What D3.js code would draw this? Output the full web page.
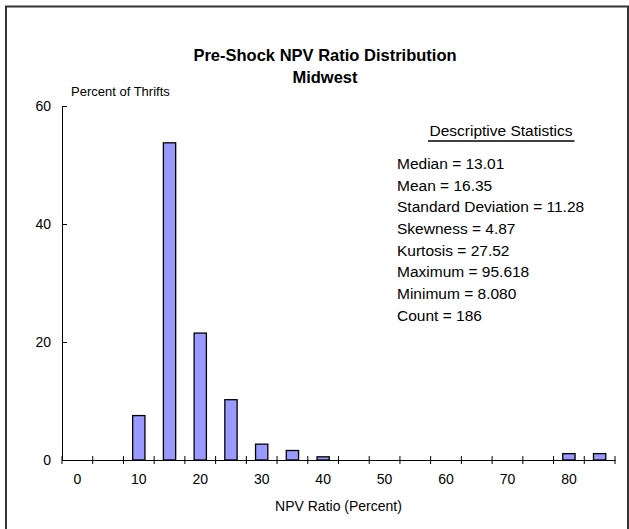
<!DOCTYPE html>
<html>
<head>
<meta charset="utf-8">
<script src="https://cdn.jsdelivr.net/npm/d3@7"></script>
<style>
  body { margin: 0; background: #fff; }
  svg text { font-family: "Liberation Sans", Arial, sans-serif; fill: #000; }
</style>
</head>
<body>
<div class="chart"></div>
<script>
// bins of the NPV ratio (percent), 5-point wide
var categories = ["0", "5", "10", "15", "20", "25", "30", "35", "40", "45",
  "50", "55", "60", "65", "70", "75", "80", "85"];
// percent of thrifts in each bin (186 thrifts)
var percents = [0, 0, 7.53, 53.76, 21.51, 10.22, 2.69, 1.61, 0.54, 0,
  0, 0, 0, 0, 0, 0, 1.08, 1.08];
var xTickLabels = ["0", "", "10", "", "20", "", "30", "", "40", "",
  "50", "", "60", "", "70", "", "80", ""];
var yTicks = [0, 20, 40, 60];
var statsLines = ["Median = 13.01", "Mean = 16.35", "Standard Deviation = 11.28",
  "Skewness = 4.87", "Kurtosis = 27.52", "Maximum = 95.618",
  "Minimum = 8.080", "Count = 186"];

var width = 629,
  height = 529;

var svg = d3.select(".chart")
  .append("svg")
  .attr("width", width)
  .attr("height", height);

// outer frame
svg.append("rect")
  .attr("x", 6)
  .attr("y", 6.5)
  .attr("width", 622)
  .attr("height", 540)
  .attr("fill", "none")
  .attr("stroke", "#333")
  .attr("stroke-width", 2);

var x = d3.scaleBand()
  .domain(categories)
  .range([62, 615])
  .paddingInner(0.6)
  .paddingOuter(0.3);

var y = d3.scaleLinear()
  .domain([0, 60])
  .range([460, 106]);

var step = x.step();

// bars
svg.append("g")
  .selectAll("rect")
  .data(percents)
  .enter()
  .append("rect")
  .attr("x", function(d, i) { return x(categories[i]); })
  .attr("width", x.bandwidth())
  .attr("y", function(d) { return y(d); })
  .attr("height", function(d) { return y(0) - y(d); })
  .attr("fill", "#9999ff")
  .attr("stroke", "#000")
  .attr("stroke-width", 1.3)
  .style("display", function(d) { return d > 0 ? null : "none"; });

// x axis: labels centred on bins, ticks on the bin edges
var xAxis = svg.append("g")
  .attr("transform", "translate(0," + y(0) + ")")
  .call(d3.axisBottom(x)
    .tickSizeInner(0)
    .tickSizeOuter(0)
    .tickPadding(14)
    .tickFormat(function(d, i) { return xTickLabels[i]; }));
xAxis.select(".domain").attr("stroke", "#000");
xAxis.selectAll("text").style("font-size", "14px");

var edges = d3.range(categories.length + 1).map(function(i) {
  return i < categories.length ? x(categories[i]) + x.bandwidth() / 2 - step / 2
    : x(categories[i - 1]) + x.bandwidth() / 2 + step / 2;
});
xAxis.selectAll(".edge")
  .data(edges)
  .enter()
  .append("line")
  .attr("class", "edge")
  .attr("x1", function(d) { return d; })
  .attr("x2", function(d) { return d; })
  .attr("y1", -4)
  .attr("y2", 4)
  .attr("stroke", "#000");

// y axis, ticks crossing the line
var yAxis = svg.append("g")
  .attr("transform", "translate(62,0)")
  .call(d3.axisLeft(y)
    .tickValues(yTicks)
    .tickSizeInner(5)
    .tickSizeOuter(0)
    .tickPadding(6));
yAxis.select(".domain").attr("stroke", "#000");
yAxis.selectAll(".tick line").attr("x2", 5).attr("stroke", "#000");
yAxis.selectAll("text").style("font-size", "14px");

// titles
svg.append("text")
  .attr("x", 325)
  .attr("y", 60.5)
  .attr("text-anchor", "middle")
  .style("font-size", "16.5px")
  .style("font-weight", "bold")
  .text("Pre-Shock NPV Ratio Distribution");

svg.append("text")
  .attr("x", 325)
  .attr("y", 82.5)
  .attr("text-anchor", "middle")
  .style("font-size", "16.5px")
  .style("font-weight", "bold")
  .text("Midwest");

svg.append("text")
  .attr("x", 71)
  .attr("y", 96)
  .style("font-size", "13px")
  .text("Percent of Thrifts");

svg.append("text")
  .attr("x", 338.5)
  .attr("y", 511)
  .attr("text-anchor", "middle")
  .style("font-size", "14px")
  .text("NPV Ratio (Percent)");

// descriptive statistics box
svg.append("text")
  .attr("x", 501)
  .attr("y", 136.3)
  .attr("text-anchor", "middle")
  .style("font-size", "15.5px")
  .text("Descriptive Statistics");

svg.append("line")
  .attr("x1", 428)
  .attr("x2", 574.5)
  .attr("y1", 141)
  .attr("y2", 141)
  .attr("stroke", "#000")
  .attr("stroke-width", 1.5);

svg.append("g")
  .selectAll("text")
  .data(statsLines)
  .enter()
  .append("text")
  .attr("x", 397)
  .attr("y", function(d, i) { return 169 + i * 21.67; })
  .style("font-size", "15.5px")
  .text(function(d) { return d; });
</script>
</body>
</html>
